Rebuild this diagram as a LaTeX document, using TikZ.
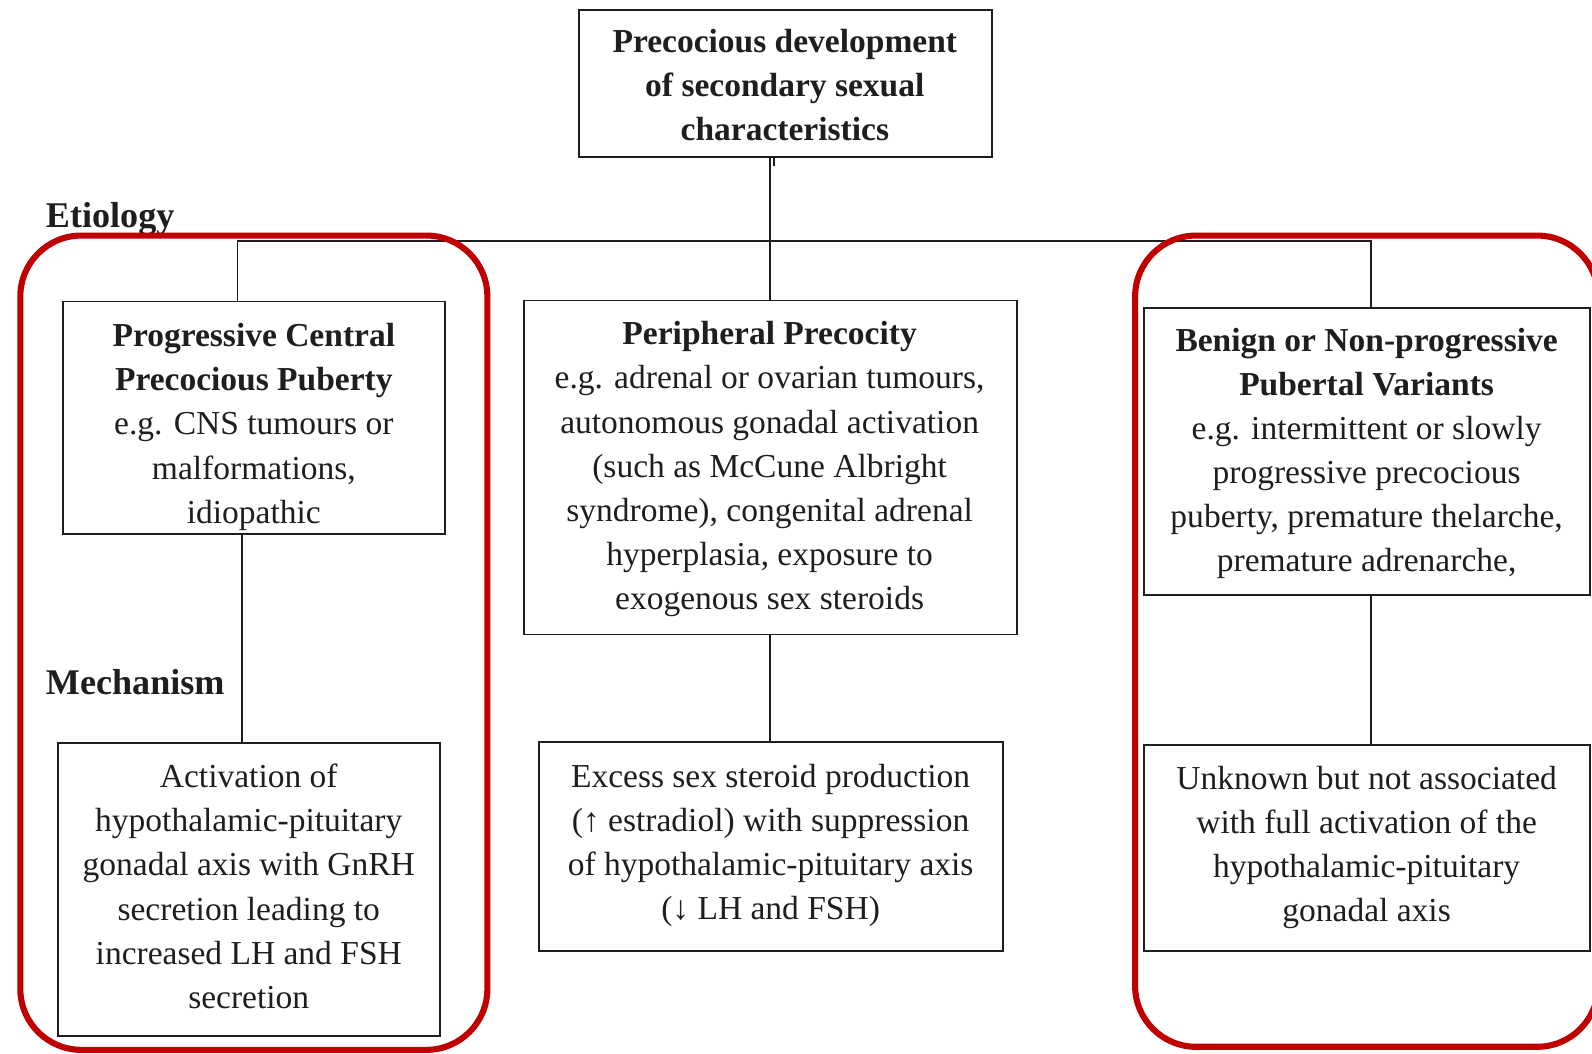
\documentclass[tikz,border=0pt]{standalone}
\usepackage{fontspec}
\setmainfont{Liberation Serif}
\definecolor{framered}{RGB}{192,0,0}
\definecolor{ink}{RGB}{30,30,30}
\begin{document}
\begin{tikzpicture}[x=1pt,y=-1pt,
  box/.style={draw=ink, line width=1.8pt, rectangle, inner sep=0pt, fill=white},
  txt/.style={align=center, inner sep=0pt, text=ink, font=\fontsize{33}{43.4}\selectfont},
  btxt/.style={txt, font=\fontsize{33}{43.4}\selectfont\bfseries},
  lbl/.style={inner sep=0pt, text=ink, font=\fontsize{35.6}{40}\selectfont\bfseries, anchor=base west},
  link/.style={draw=ink, line width=1.8pt},
  frame/.style={draw=framered, line width=6pt, rounded corners=60pt}]
\useasboundingbox (0,0) rectangle (1568,1038);
\clip (0,0) rectangle (1568,1038);

% boxes
\node[box, minimum width=407pt, minimum height=145pt] (top) at (773.5,82.5) {};
\node[box, minimum width=376pt, minimum height=229pt] (left) at (250,411.5) {};
\node[box, minimum width=486pt, minimum height=329pt] (mid) at (759,460.5) {};
\node[box, minimum width=439pt, minimum height=283pt] (right) at (1346.5,444.5) {};
\node[box, minimum width=376pt, minimum height=288pt] (mechL) at (245,876) {};
\node[box, minimum width=457pt, minimum height=206pt] (mechM) at (759.5,834) {};
\node[box, minimum width=439pt, minimum height=203pt] (mechR) at (1346.5,835.5) {};

% texts
\node[btxt] (toptxt) at (773,84) {Precocious development\\of secondary sexual\\characteristics};
\node[txt] (lefttxt) at (250,420.5) {\textbf{Progressive Central}\\\textbf{Precocious Puberty}\\e.g. CNS tumours or\\malformations,\\idiopathic};
\node[txt] (midtxt) at (758,462) {\textbf{Peripheral Precocity}\\e.g. adrenal or ovarian tumours,\\autonomous gonadal activation\\(such as McCune Albright\\syndrome), congenital adrenal\\hyperplasia, exposure to\\exogenous sex steroids};
\node[txt] (righttxt) at (1346,446.5) {\textbf{Benign or Non-progressive}\\\textbf{Pubertal Variants}\\e.g. intermittent or slowly\\progressive precocious\\puberty, premature thelarche,\\premature adrenarche,};
\node[txt] (mechLtxt) at (245,873) {Activation of\\hypothalamic-pituitary\\gonadal axis with GnRH\\secretion leading to\\increased LH and FSH\\secretion};
\node[txt] (mechMtxt) at (759,833) {Excess sex steroid production\\(↑ estradiol) with suppression\\of hypothalamic-pituitary axis\\(↓ LH and FSH)};
\node[txt] (mechRtxt) at (1346,835) {Unknown but not associated\\with full activation of the\\hypothalamic-pituitary\\gonadal axis};

\node[lbl] (etio) at (45,224) {Etiology};
\node[lbl] (mech) at (45,684) {Mechanism};

% connectors
\coordinate (xl) at (234,0);
\coordinate (xl2) at (238,0);
\coordinate (xm) at (758,0);
\coordinate (xt) at (762,0);
\coordinate (xr) at (1350,0);
\coordinate (bus) at (0,237);
\draw[link] (top.south -| xt) -- ++(0,8);
\draw[link] (top.south -| xm) -- (mid.north -| xm);
\draw[link] (left.north -| xl) -- (bus -| xl) -- (bus -| xr) -- (right.north -| xr);
\draw[link] (left.south -| xl2) -- (mechL.north -| xl2);
\draw[link] (mid.south -| xm) -- (mechM.north -| xm);
\draw[link] (right.south -| xr) -- (mechR.north -| xr);

% red frames
\draw[frame] (20,232) rectangle (480,1034);
\draw[frame] (1118,232) rectangle (1574,1031);
\end{tikzpicture}
\end{document}
